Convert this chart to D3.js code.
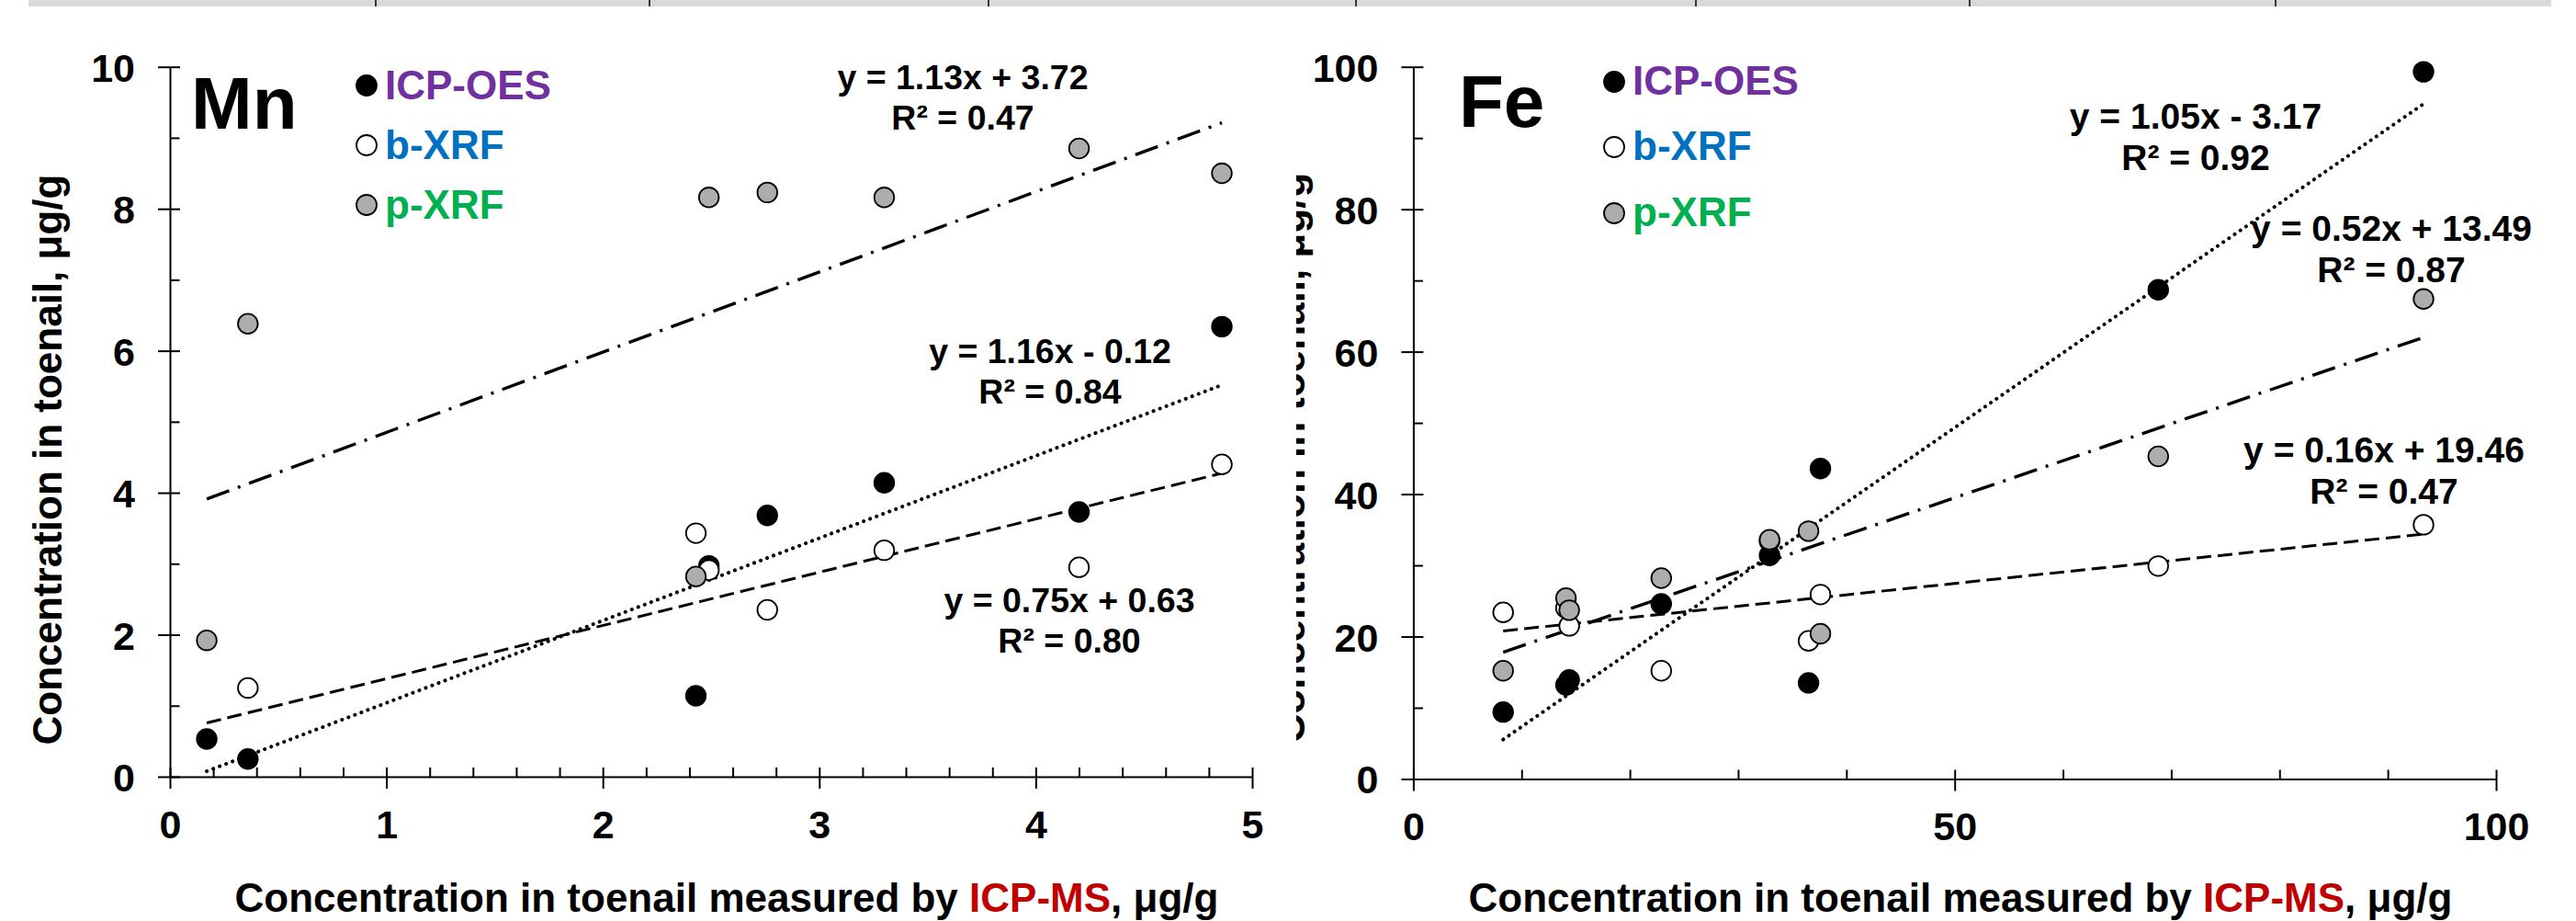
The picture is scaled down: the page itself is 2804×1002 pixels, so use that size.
<!DOCTYPE html>
<html><head><meta charset="utf-8">
<script src="https://cdn.jsdelivr.net/npm/d3@7"></script>
<style>
html,body{margin:0;padding:0;background:#fff;}
svg{display:block;}
text{font-family:"Liberation Sans",Arial,sans-serif;font-weight:bold;}
</style>
</head><body>
<svg id="chart" width="2804" height="1002"></svg>
<script>
// ---------------- DATA ----------------
const seriesNames = ["ICP-OES", "b-XRF", "p-XRF"];

// Mn panel (x = ICP-MS, µg/g)
const mnX       = [0.17, 0.36, 2.43, 2.49, 2.76, 3.30, 4.20, 4.86];
const mnIcpOes  = [0.53, 0.25, 1.14, 2.97, 3.68, 4.14, 3.73, 6.34];
const mnBXrf    = [null, 1.25, 3.43, 2.91, 2.35, 3.19, 2.95, 4.40];
const mnPXrf    = [1.92, 6.38, 2.82, 8.16, 8.23, 8.16, 8.85, 8.50];
const mnSlopes     = [1.16, 0.75, 1.13];
const mnIntercepts = [-0.12, 0.63, 3.72];
const mnR2         = [0.84, 0.80, 0.47];
const mnXTicks = [0, 1, 2, 3, 4, 5];
const mnYTicks = [0, 2, 4, 6, 8, 10];

// Fe panel
const feX       = [8.3, 14.1, 14.4, 22.9, 32.9, 36.5, 37.6, 68.8, 93.3];
const feIcpOes  = [9.4, 13.2, 13.9, 24.6, 31.4, 13.5, 43.6, 68.7, 99.3];
const feBXrf    = [23.4, 24.0, 21.5, 15.2, 33.4, 19.4, 25.9, 29.9, 35.7];
const fePXrf    = [15.2, 25.4, 23.7, 28.2, 33.6, 34.8, 20.4, 45.3, 67.4];
const feSlopes     = [1.05, 0.16, 0.52];
const feIntercepts = [-3.17, 19.46, 13.49];
const feR2         = [0.92, 0.47, 0.87];
const feXTicks = [0, 50, 100];
const feYTicks = [0, 20, 40, 60, 80, 100];

const yTitle = "Concentration in toenail, μg/g";
const xTitleParts = ["Concentration in toenail measured by ", "ICP-MS", ", μg/g"];

// ---------------- STYLE / LAYOUT ----------------
const FONT = '"Liberation Sans", Arial, sans-serif';
const markerFill = ["#000000", "#ffffff", "#adadad"];
const legendColor = ["#7030A0", "#0070C0", "#00B050"];
const lineDash = ["0.1 7.4", "16 7", "26 10 3 10"];
const lineWidth = [4, 3, 3.4];
const lineCap = ["round", "butt", "butt"];

const panels = [
  { label: "Mn", xs: mnX, ys: [mnIcpOes, mnBXrf, mnPXrf],
    slopes: mnSlopes, intercepts: mnIntercepts, r2: mnR2,
    xTicks: mnXTicks, yTicks: mnYTicks, xMinorStep: 0.2, yMinorStep: 1,
    box: { left: 185, right: 1363, top: 72.7, bottom: 845 },
    labelPos: [208, 140], legend: { x: 399, ys: [93, 158, 223], dy: 15 },
    eqFont: 37.5,
    eqPos: [[1143, 395], [1164, 666], [1048, 97]], eqGap: 43.5,
    yTitleX: 67, yTitleY: 500, xTitleX: 791, clipLeft: 0 },
  { label: "Fe", xs: feX, ys: [feIcpOes, feBXrf, fePXrf],
    slopes: feSlopes, intercepts: feIntercepts, r2: feR2,
    xTicks: feXTicks, yTicks: feYTicks, xMinorStep: 10, yMinorStep: 10,
    box: { left: 1538.4, right: 2717, top: 72.7, bottom: 847.5 },
    labelPos: [1588, 138], legend: { x: 1757, ys: [89, 160, 232], dy: 14 },
    eqFont: 39,
    eqPos: [[2390, 140], [2595, 503], [2603, 262]], eqGap: 45,
    yTitleX: 1420, yTitleY: 498, xTitleX: 2134, clipLeft: 1411 }
];

const svg = d3.select("#chart");
const defs = svg.append("defs");

// top table border remnant
const topBand = svg.append("g");
topBand.append("rect").attr("x", 31).attr("y", 0).attr("width", 2746).attr("height", 7).attr("fill", "#d9d9d9");
[409, 707, 1076, 1476, 1846, 2144, 2477].forEach(x => {
  topBand.append("line").attr("x1", x).attr("x2", x).attr("y1", 0).attr("y2", 7)
    .attr("stroke", "#000").attr("stroke-width", 1.5);
});

function fmtEq(m, b) {
  const sign = b < 0 ? "-" : "+";
  return "y = " + m.toFixed(2) + "x " + sign + " " + Math.abs(b).toFixed(2);
}

panels.forEach((p, pi) => {
  const g = svg.append("g");
  const b = p.box;
  const xMax = p.xTicks[p.xTicks.length - 1];
  const yMax = p.yTicks[p.yTicks.length - 1];
  const x = d3.scaleLinear().domain([0, xMax]).range([b.left, b.right]);
  const y = d3.scaleLinear().domain([0, yMax]).range([b.bottom, b.top]);

  // minor ticks
  const xMinor = d3.range(0, xMax + 1e-9, p.xMinorStep).filter(v => !p.xTicks.some(t => Math.abs(t - v) < 1e-6));
  const yMinor = d3.range(0, yMax + 1e-9, p.yMinorStep).filter(v => !p.yTicks.some(t => Math.abs(t - v) < 1e-6));

  const axStroke = (sel) => { sel.selectAll("line,path").attr("stroke", "#000").attr("stroke-width", 2); };

  g.append("g").attr("transform", `translate(0,${b.bottom})`)
    .call(d3.axisBottom(x).tickValues(xMinor).tickSize(-10).tickSizeOuter(0).tickFormat(""))
    .call(axStroke).call(s => s.select(".domain").remove());
  g.append("g").attr("transform", `translate(${b.left},0)`)
    .call(d3.axisLeft(y).tickValues(yMinor).tickSize(-10.5).tickSizeOuter(0).tickFormat(""))
    .call(axStroke).call(s => s.select(".domain").remove());

  // major x axis
  const xa = g.append("g").attr("transform", `translate(0,${b.bottom})`)
    .call(d3.axisBottom(x).tickValues(p.xTicks).tickSizeOuter(0).tickFormat(d3.format("d")))
    .call(axStroke);
  xa.selectAll(".tick line").attr("y1", -10).attr("y2", 13);
  xa.selectAll(".tick text").attr("y", 36).attr("dy", "0.71em")
    .attr("font-size", 43).attr("font-family", FONT).attr("font-weight", "bold").attr("fill", "#000");

  // major y axis
  const ya = g.append("g").attr("transform", `translate(${b.left},0)`)
    .call(d3.axisLeft(y).tickValues(p.yTicks).tickSizeOuter(0).tickFormat(d3.format("d")))
    .call(axStroke);
  ya.selectAll(".tick line").attr("x1", -13).attr("x2", 11);
  ya.selectAll(".tick text").attr("x", -38).attr("dy", "0.36em")
    .attr("font-size", 43).attr("font-family", FONT).attr("font-weight", "bold").attr("fill", "#000");

  // trendlines (Excel-style: over the x range of the data)
  const xr = d3.extent(p.xs);
  const lineGen = d3.line().x(d => x(d[0])).y(d => y(d[1]));
  [1, 2, 0].forEach(si => {
    const pts = xr.map(v => [v, p.slopes[si] * v + p.intercepts[si]]);
    g.append("path").attr("d", lineGen(pts)).attr("fill", "none")
      .attr("stroke", "#000").attr("stroke-width", lineWidth[si])
      .attr("stroke-dasharray", lineDash[si]).attr("stroke-linecap", lineCap[si]);
  });

  // markers (series order: ICP-OES, b-XRF, p-XRF on top)
  p.ys.forEach((vals, si) => {
    const pts = p.xs.map((v, i) => [v, vals[i]])
      .filter(d => d[1] !== null && d[1] >= 0 && d[1] <= yMax);
    g.append("g").selectAll("circle").data(pts).join("circle")
      .attr("cx", d => x(d[0])).attr("cy", d => y(d[1])).attr("r", 10.8)
      .attr("fill", markerFill[si]).attr("stroke", "#000").attr("stroke-width", 1.8);
  });

  // equations
  p.eqPos.forEach((pos, si) => {
    const t = g.append("text").attr("text-anchor", "middle").attr("font-size", p.eqFont).attr("fill", "#000");
    t.append("tspan").attr("x", pos[0]).attr("y", pos[1]).text(fmtEq(p.slopes[si], p.intercepts[si]));
    t.append("tspan").attr("x", pos[0]).attr("y", pos[1] + p.eqGap).text("R² = " + p.r2[si].toFixed(2));
  });

  // panel label
  g.append("text").attr("x", p.labelPos[0]).attr("y", p.labelPos[1]).attr("font-size", 80).attr("fill", "#000").text(p.label);

  // legend
  seriesNames.forEach((name, si) => {
    const ly = p.legend.ys[si];
    g.append("circle").attr("cx", p.legend.x).attr("cy", ly).attr("r", 11)
      .attr("fill", markerFill[si]).attr("stroke", "#000").attr("stroke-width", 1.8);
    g.append("text").attr("x", p.legend.x + 20).attr("y", ly + p.legend.dy)
      .attr("font-size", 44).attr("fill", legendColor[si]).text(name);
  });

  // y axis title (Fe panel's is clipped on the left, as in the source image)
  const clipId = "clipY" + pi;
  defs.append("clipPath").attr("id", clipId).append("rect")
    .attr("x", p.clipLeft).attr("y", 0).attr("width", 200).attr("height", 1002);
  g.append("g").attr("clip-path", `url(#${clipId})`)
    .append("text").attr("transform", `translate(${p.yTitleX},${p.yTitleY}) rotate(-90)`)
    .attr("text-anchor", "middle").attr("font-size", 44).attr("fill", "#000").text(yTitle);

  // x axis title
  const xt = g.append("text").attr("x", p.xTitleX).attr("y", 992).attr("text-anchor", "middle")
    .attr("font-size", 44).attr("fill", "#000");
  xTitleParts.forEach((s, k) => xt.append("tspan").attr("fill", k === 1 ? "#C00000" : "#000").text(s));
});
</script>
</body></html>
